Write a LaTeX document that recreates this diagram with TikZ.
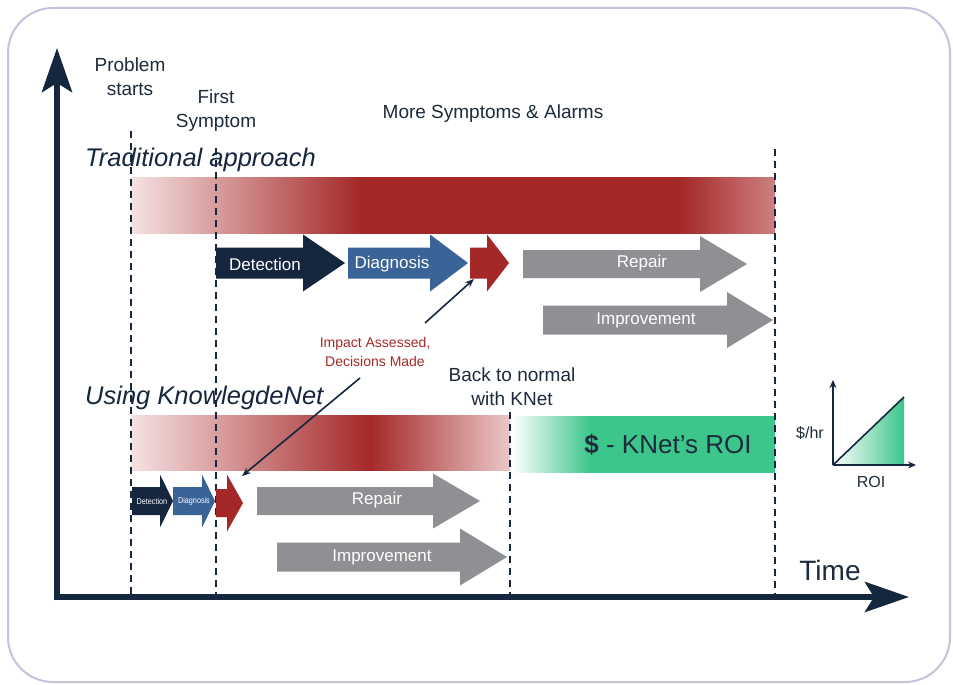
\documentclass[tikz,border=0pt]{standalone}
\usepackage{fontspec}
\setmainfont{Liberation Sans}
\usetikzlibrary{arrows.meta}
\definecolor{navy}{HTML}{15263F}
\definecolor{txt}{HTML}{1E2B3C}
\definecolor{dblue}{HTML}{3A6397}
\definecolor{dred}{HTML}{A52828}
\definecolor{lred}{HTML}{F5E2E2}
\definecolor{mred}{HTML}{CC8080}
\definecolor{ered}{HTML}{EBC8C8}
\definecolor{agray}{HTML}{8F9094}
\definecolor{kgreen}{HTML}{3CC68B}
\definecolor{frame}{HTML}{C3C3DA}
\pgfdeclarehorizontalshading{tradbar}{100bp}{color(0bp)=(lred); color(25bp)=(lred); color(42.78bp)=(dred); color(67.62bp)=(dred); color(75bp)=(mred); color(100bp)=(mred)}
\pgfdeclarehorizontalshading{knetbar}{100bp}{color(0bp)=(lred); color(25bp)=(lred); color(56.53bp)=(dred); color(75bp)=(ered); color(100bp)=(ered)}
\pgfdeclarehorizontalshading{roibar}{100bp}{color(0bp)=(white); color(25bp)=(white); color(39.83bp)=(kgreen); color(75bp)=(kgreen); color(100bp)=(kgreen)}
\newcommand{\blockarr}[7]{\fill[#1] (#2,#5-#6) -- (#3,#5-#6) -- (#3,#5-#7) -- (#4,#5) -- (#3,#5+#7) -- (#3,#5+#6) -- (#2,#5+#6) -- cycle;}
\begin{document}
\begin{tikzpicture}[x=1pt,y=-1pt,
  lbl/.style={font=\fontsize{19}{24}\selectfont, text=txt, align=center, inner sep=0pt},
  headlbl/.style={font=\itshape\fontsize{25.5}{30}\selectfont, text=navy, anchor=west, inner sep=0pt},
  inarr/.style={font=\fontsize{17}{20}\selectfont, text=white, inner sep=0pt},
  smallarr/.style={font=\fontsize{8.5}{10}\selectfont, text=white, inner sep=0pt},
  axis/.style={line width=6pt, draw=navy, -{Stealth[length=44pt,width=30pt,inset=9pt]}},
  vdash/.style={draw=navy, line width=2pt, dash pattern=on 7pt off 5pt},
  annot/.style={draw=navy, line width=1.6pt, -{Stealth[length=9pt,width=7pt]}},
  mini/.style={draw=navy, line width=2pt, -{Stealth[length=8pt,width=7pt]}}]
\useasboundingbox (0,0) rectangle (953,685);
% frame
\fill[white] (0,0) rectangle (953,685);
\draw[frame, line width=2pt, rounded corners=45pt] (8,8) rectangle (950,682);

% bars
\shade[shading=tradbar] (131,177) rectangle (775,233);
\shade[shading=knetbar] (131,415) rectangle (510,470);
\shade[shading=roibar] (512,416) rectangle (775,472);
\node[font=\fontsize{26}{30}\selectfont, text=txt, inner sep=0pt] (roi) at (668,445) {\textbf{\$} - KNet’s ROI};

% dashed lines
\coordinate (d1t) at (131,131); \coordinate (d1b) at (131,596);
\coordinate (d2t) at (216,148); \coordinate (d2b) at (216,596);
\coordinate (d3t) at (510,412); \coordinate (d3b) at (510,596);
\coordinate (d4t) at (775,149); \coordinate (d4b) at (775,596);
\draw[vdash] (d1t) -- (d1b);
\draw[vdash] (d2t) -- (d2b);
\draw[vdash] (d3t) -- (d3b);
\draw[vdash] (d4t) -- (d4b);

% top arrows
\blockarr{navy}{216}{303}{345}{263}{15.5}{28.5}
\blockarr{dblue}{348}{430}{468}{263}{15.5}{28.5}
\blockarr{dred}{470}{487}{509}{263}{15.5}{28.5}
\blockarr{agray}{523}{700}{747}{264}{14}{28}
\blockarr{agray}{543}{727}{773}{320}{14.5}{28}
\node[inarr] (det1) at (265,264) {Detection};
\node[inarr] (dia1) at (392,264) {Diagnosis};
\node[inarr] (rep1) at (642,263) {Repair};
\node[inarr] (imp1) at (646,320) {Improvement};

% bottom arrows
\blockarr{navy}{132}{160}{173}{501}{14}{26.5}
\blockarr{dblue}{173}{202}{215}{501}{14}{26.5}
\blockarr{dred}{216}{227}{243}{503}{14}{28.5}
\blockarr{agray}{257}{433}{480}{501}{14}{27.5}
\blockarr{agray}{277}{460}{507}{557}{14.5}{28.5}
\node[smallarr, xscale=0.85] (det2) at (152,501) {Detection};
\node[smallarr, xscale=0.85] (dia2) at (194,501) {Diagnosis};
\node[inarr] (rep2) at (377,500) {Repair};
\node[inarr] (imp2) at (382,557) {Improvement};

% labels
\node[lbl] (prob) at (130,77) {Problem\\starts};
\node[lbl] (first) at (216,111) {First\\Symptom};
\node[lbl] (more) at (493,114) {More Symptoms \& Alarms};
\node[headlbl] (trad) at (85,160) {Traditional approach};
\node[headlbl] (using) at (85,398) {Using KnowlegdeNet};
\node[lbl] (back) at (512,387) {Back to normal\\with KNet};
\node[font=\fontsize{14}{19}\selectfont, text=dred, align=center, inner sep=0pt] (impact) at (375,352) {Impact Assessed,\\Decisions Made};

% annotation arrows
\coordinate (a1s) at (425,323); \coordinate (a1e) at (474,279);
\coordinate (a2s) at (360,378); \coordinate (a2e) at (242,476);
\draw[annot] (a1s) -- (a1e);
\draw[annot] (a2s) -- (a2e);

% axes
\coordinate (ytop) at (57,48);
\coordinate (xend) at (909,597);
\draw[axis] (57,600) -- (ytop);
\draw[axis] (54,597) -- (xend);
\node[font=\fontsize{28}{32}\selectfont, text=txt, inner sep=0pt] (time) at (830,570) {Time};

% mini ROI chart
\shade[left color=white, right color=kgreen] (833,465) -- (904,397) -- (904,465) -- cycle;
\coordinate (mo) at (833,465);
\coordinate (mtop) at (833,380);
\coordinate (mright) at (916,465);
\coordinate (mdiag) at (904,397);
\draw[navy, line width=1.6pt] (mo) -- (mdiag);
\draw[mini] (mo) -- (mtop);
\draw[mini] (mo) -- (mright);
\node[font=\fontsize{16}{19}\selectfont, text=txt, inner sep=0pt] (dph) at (810,433) {\$/hr};
\node[font=\fontsize{16}{19}\selectfont, text=txt, inner sep=0pt] (roil) at (871,482) {ROI};
\end{tikzpicture}
\end{document}
